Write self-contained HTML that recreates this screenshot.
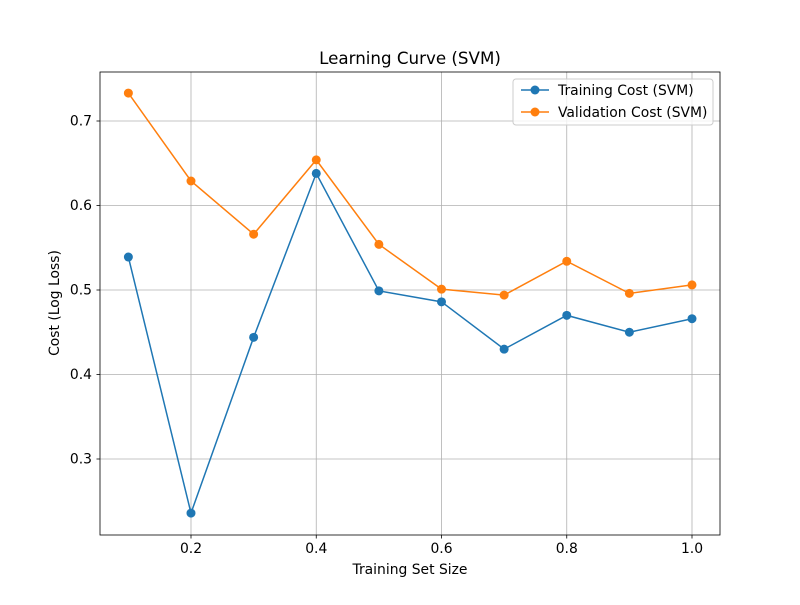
<!DOCTYPE html>
<html><head><meta charset="utf-8"><style>
body{margin:0;background:#fff;}
svg text{font-family:"DejaVu Sans","Liberation Sans",sans-serif;fill:#000;}
</style></head><body>
<svg id="chart" width="800" height="600" xmlns="http://www.w3.org/2000/svg">
<rect width="800" height="600" fill="#fff"/>
<g id="grid"></g>
<g id="ticks"></g>
<g id="series"></g>
<rect x="100" y="72" width="620" height="463" fill="none" stroke="#000" stroke-width="0.8"/>
<text x="410" y="64" font-size="16.7" text-anchor="middle">Learning Curve (SVM)</text>
<text x="410" y="574" font-size="13.9" text-anchor="middle">Training Set Size</text>
<text x="59" y="303" font-size="13.9" text-anchor="middle" transform="rotate(-90 59 303)">Cost (Log Loss)</text>
<g>
<rect x="513" y="79" width="200" height="46" rx="3" fill="#fff" fill-opacity="0.8" stroke="#ccc"/>
<g>
<line x1="521" y1="90" x2="549" y2="90" stroke="#1f77b4" stroke-width="1.5"/><circle cx="535" cy="90" r="4.5" fill="#1f77b4"/>
<text x="558" y="95" font-size="13.9">Training Cost (SVM)</text></g>
<g>
<line x1="521" y1="112" x2="549" y2="112" stroke="#ff7f0e" stroke-width="1.5"/><circle cx="535" cy="112" r="4.5" fill="#ff7f0e"/>
<text x="558" y="117" font-size="13.9">Validation Cost (SVM)</text></g>
</g>
</svg>
<script>
const sizes=[0.1,0.2,0.3,0.4,0.5,0.6,0.7,0.8,0.9,1.0];
const trainCost=[0.539,0.236,0.444,0.638,0.499,0.486,0.430,0.470,0.450,0.466];
const valCost=[0.733,0.629,0.566,0.654,0.554,0.501,0.494,0.534,0.496,0.506];
const xTicks=[0.2,0.4,0.6,0.8,1.0];
const xTickLabels=["0.2","0.4","0.6","0.8","1.0"];
const yTicks=[0.3,0.4,0.5,0.6,0.7];
const yTickLabels=["0.3","0.4","0.5","0.6","0.7"];
const NS="http://www.w3.org/2000/svg";
function xs(v){return 191+(v-0.2)*626.25;}
function ys(v){return 459-(v-0.3)*845;}
function mk(t,a,p){const e=document.createElementNS(NS,t);for(const k in a)e.setAttribute(k,a[k]);p.appendChild(e);return e;}
const grid=document.getElementById('grid'),ticks=document.getElementById('ticks'),ser=document.getElementById('series');
xTicks.forEach((v,i)=>{const x=xs(v);
 const g=mk('line',{x1:x,x2:x,y1:72,y2:535,stroke:'#b0b0b0','stroke-width':0.8},grid);
 
 
 mk('line',{x1:x,x2:x,y1:535,y2:538.5,stroke:'#000','stroke-width':0.8},ticks);
 const t=mk('text',{x:x,y:553,'font-size':13.9,'text-anchor':'middle'},ticks);t.textContent=xTickLabels[i];
 
 });
yTicks.forEach((v,i)=>{const y=ys(v);
 const g=mk('line',{x1:100,x2:720,y1:y,y2:y,stroke:'#b0b0b0','stroke-width':0.8},grid);
 
 
 mk('line',{x1:96.5,x2:100,y1:y,y2:y,stroke:'#000','stroke-width':0.8},ticks);
 const t=mk('text',{x:92,y:y+4.5,'font-size':13.9,'text-anchor':'end'},ticks);t.textContent=yTickLabels[i];
 
 });
function draw(vals,color,name){
 const pl=mk('polyline',{points:sizes.map((s,i)=>xs(s)+','+ys(vals[i])).join(' '),fill:'none',stroke:color,'stroke-width':1.5},ser);
 
 
 sizes.forEach((s,i)=>{const c=mk('circle',{cx:xs(s),cy:ys(vals[i]),r:4.5,fill:color},ser);
  
  });
}
draw(trainCost,'#1f77b4','training-cost');
draw(valCost,'#ff7f0e','validation-cost');
</script>
</body></html>
